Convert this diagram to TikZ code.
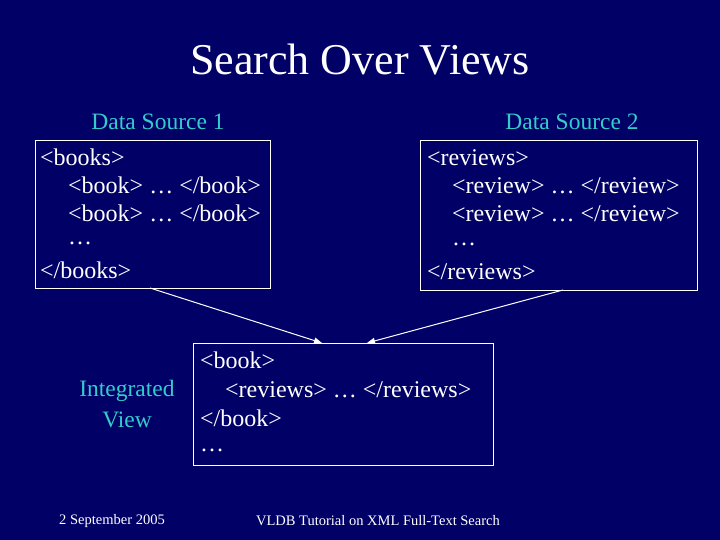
\documentclass[tikz,border=0pt]{standalone}
\usepackage{fontspec}
\setmainfont{Liberation Serif}
\usetikzlibrary{arrows.meta}
\definecolor{bg}{HTML}{000066}
\definecolor{teal}{HTML}{33CCCC}
\tikzset{
  txt/.style={text=white,anchor=west,inner sep=0pt,font=\fontsize{24}{26}\selectfont},
  lbl/.style={text=teal,inner sep=0pt,font=\fontsize{23.5}{26}\selectfont},
  foot/.style={text=white,inner sep=0pt,font=\fontsize{14.5}{16}\selectfont},
  boxx/.style={draw=white,line width=0.8pt},
  arr/.style={draw=white,line width=1pt,-{Triangle[length=8pt,width=6pt]}}
}
\begin{document}
\begin{tikzpicture}[x=1pt,y=-1pt]
\fill[bg] (0,0) rectangle (720,540);
\useasboundingbox (0,0) rectangle (720,540);
\node[text=white,inner sep=0pt,font=\fontsize{44}{48}\selectfont] (title) at (360,60) {Search Over Views};
\node[lbl] (ds1) at (158,122) {Data Source 1};
\node[lbl] (ds2) at (572,122) {Data Source 2};
\draw[boxx] (35,140) rectangle (270,288);
\coordinate (b1) at (150,288);
\draw[boxx] (420,140) rectangle (697,290);
\coordinate (b2) at (563,290);
\draw[boxx] (193,343) rectangle (493,465);
\coordinate (t1) at (322,343);
\coordinate (t2) at (367,343);
\node[txt] (a1) at (40,157) {<books>};
\node[txt] (a2) at (68,185) {<book> … </book>};
\node[txt] (a3) at (68,213) {<book> … </book>};
\node[txt] (a4) at (68,243) {…};
\node[txt] (a5) at (40,270) {</books>};
\node[txt] (c1) at (427,158) {<reviews>};
\node[txt] (c2) at (452,186) {<review> … </review>};
\node[txt] (c3) at (452,214) {<review> … </review>};
\node[txt] (c4) at (452,244) {…};
\node[txt] (c5) at (427,272) {</reviews>};
\node[txt] (d1) at (200,360) {<book>};
\node[txt] (d2) at (225,390) {<reviews> … </reviews>};
\node[txt] (d3) at (200,418) {</book>};
\node[txt] (d4) at (200,450) {…};
\node[lbl] (iv1) at (127,391) {Integrated};
\node[lbl] (iv2) at (127,420) {View};
\draw[arr] (b1) -- (t1);
\draw[arr] (b2) -- (t2);
\node[foot] (f1) at (112,521) {2 September 2005};
\node[foot] (f2) at (378,521) {VLDB Tutorial on XML Full-Text Search};
\end{tikzpicture}
\end{document}
